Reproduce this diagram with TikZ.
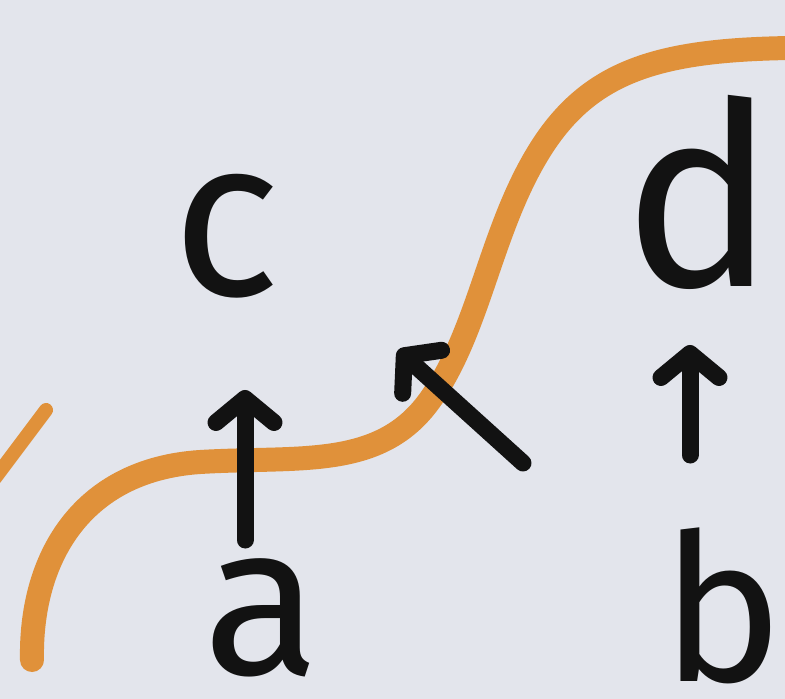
\documentclass[tikz,border=0pt]{standalone}
\usepackage{fontspec}
\setmainfont{Fira Sans}
\usetikzlibrary{arrows.meta}
\definecolor{bg}{HTML}{E3E5EC}
\definecolor{crayon}{HTML}{E0913A}
\definecolor{ink}{HTML}{121212}
\tikzset{
  letter/.style={inner sep=0pt, text=ink, font=\fontsize{225}{225}\selectfont},
  inkarrow/.style={draw=ink, line width=17pt, line cap=round,
    -{Straight Barb[length=24pt,width=58pt,round]}},
  wave/.style={draw=crayon, line width=24pt, line cap=round},
}
\begin{document}
\begin{tikzpicture}[x=1pt,y=-1pt]
\fill[bg] (0,0) rectangle (785,699);
\useasboundingbox (0,0) rectangle (785,699);
% orange wave
\draw[wave] (32,660) .. controls (30,560) and (80,470) .. (200,462)
  .. controls (300,456) and (380,470) .. (430,400)
  .. controls (480,330) and (490,230) .. (540,150)
  .. controls (590,70) and (660,50) .. (790,48);
\draw[wave, line width=14pt] (-5,478) -- (46,410);
% letters
\node[letter] (c) at (226,236) {c};
\node[letter, font=\fontsize{255}{255}\selectfont] (d) at (700,192) {d};
\node[letter, font=\fontsize{215}{215}\selectfont] (a) at (262,618) {a};
\node[letter, font=\fontsize{205}{205}\selectfont] (b) at (722,606) {b};
\coordinate (p) at (523,463);
\coordinate (q) at (398,350);
% arrows
\draw[inkarrow] (245,540) coordinate (a0) -- (245,390);
\draw[inkarrow] (690,455) -- (690,345);
\draw[inkarrow] (p) -- (q);
\end{tikzpicture}
\end{document}
